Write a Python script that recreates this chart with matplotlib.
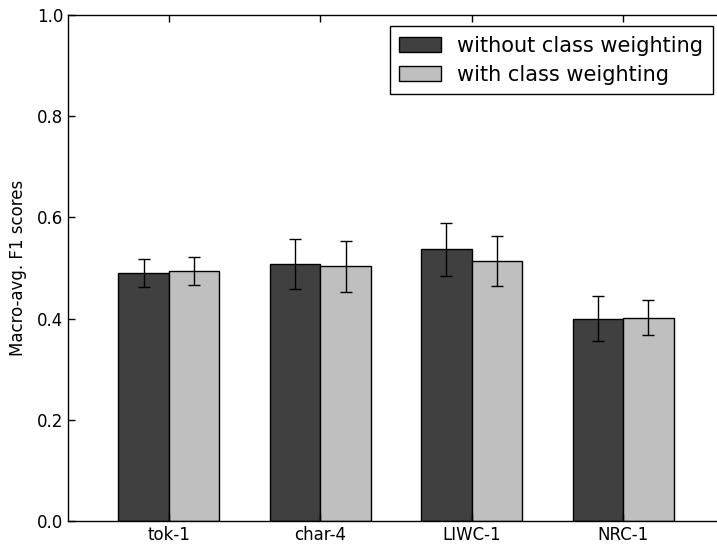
import numpy as np
import matplotlib
matplotlib.use("Agg")
import matplotlib.pyplot as plt

# Data
features = ["tok-1", "char-4", "LIWC-1", "NRC-1"]
without_w = [0.490, 0.508, 0.537, 0.400]
without_err = [0.028, 0.049, 0.052, 0.045]
with_w = [0.494, 0.503, 0.514, 0.402]
with_err = [0.027, 0.050, 0.049, 0.035]

x = np.arange(len(features))
width = 1.0 / 3

fig = plt.figure(figsize=(7.17, 5.48), dpi=100)
ax = fig.add_axes([0.0948, 0.0493, 0.9150, 0.9233])

ax.bar(x - width / 2, without_w, width, yerr=without_err, color="#404040",
       edgecolor="black", linewidth=1.0, capsize=4,
       error_kw=dict(ecolor="black", elinewidth=1.0, capthick=1.0),
       label="without class weighting")
ax.bar(x + width / 2, with_w, width, yerr=with_err, color="#bfbfbf",
       edgecolor="black", linewidth=1.0, capsize=4,
       error_kw=dict(ecolor="black", elinewidth=1.0, capthick=1.0),
       label="with class weighting")

ax.set_xlim(-0.5 - width / 2, len(features) - 0.5 + width / 2)
ax.set_ylim(0, 1.0)
ax.set_xticks(x)
ax.set_xticklabels(features, fontsize=12)
ax.set_yticks(np.arange(0, 1.01, 0.2))
ax.set_yticklabels(["%.1f" % v for v in np.arange(0, 1.01, 0.2)], fontsize=12)
ax.tick_params(direction="in", top=True, right=True, length=5, width=1)
ax.set_ylabel("Macro-avg. F1 scores", fontsize=12)
ax.yaxis.set_label_coords(-0.063, 0.5)

leg = ax.legend(loc="upper right", bbox_to_anchor=(0.983, 0.978), fontsize=15,
                fancybox=False, framealpha=1, edgecolor="black",
                handlelength=2.0, handletextpad=0.8, borderpad=0.45,
                labelspacing=0.45, borderaxespad=0)
leg.get_frame().set_linewidth(1.0)

for s in ax.spines.values():
    s.set_linewidth(1.0)

fig.savefig("out.png", dpi=100)
